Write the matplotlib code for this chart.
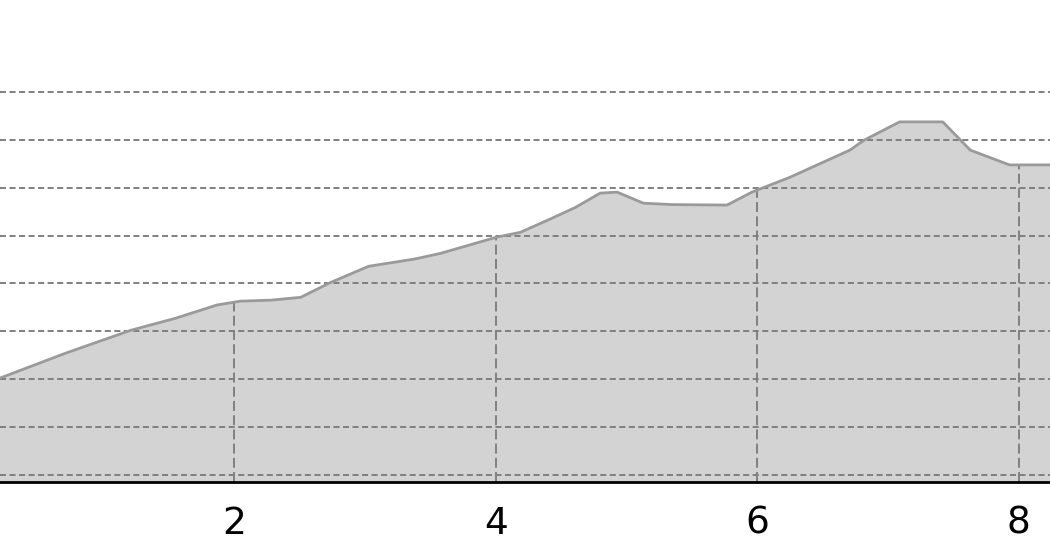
import numpy as np
import matplotlib
matplotlib.use("Agg")
import matplotlib.pyplot as plt

# values (y in arbitrary units, one grid step = 10)
x = [0.21, 0.71, 1.21, 1.55, 1.87, 2.05, 2.28, 2.51, 2.73, 3.03, 3.38, 3.58,
     4.01, 4.19, 4.42, 4.61, 4.80, 4.93, 5.13, 5.35, 5.77, 5.96, 6.25, 6.71,
     6.82, 7.09, 7.42, 7.63, 7.93, 8.24]
y = [20.2, 25.4, 30.2, 32.7, 35.5, 36.3, 36.5, 37.1, 40.1, 43.6, 45.1, 46.3,
     49.7, 50.7, 53.5, 55.9, 58.9, 59.1, 56.8, 56.5, 56.4, 59.1, 62.2, 67.9,
     70.0, 73.8, 73.8, 67.9, 64.8, 64.8]
xticks = [2, 4, 6, 8]
yticks = [0, 10, 20, 30, 40, 50, 60, 70, 80]

fig = plt.figure(figsize=(10.5, 5.6), dpi=100)
ax = fig.add_axes([0, 0.139, 1, 0.861])

ymin = -1.57
poly = ax.fill_between(x, y, ymin, color="#d3d3d3", lw=0, zorder=1)
ax.plot(x, y, color="#9a9a9a", lw=2.0, zorder=2, solid_joinstyle="round")

ax.set_xlim(x[0], x[-1])
ax.set_ylim(ymin, 99.3)
ax.set_xticks(xticks)
ax.set_yticks(yticks)
ax.set_xticklabels([str(t) for t in xticks])

ax.yaxis.grid(True, color="#7f7f7f", ls=(0, (3.1, 1.8)), lw=1.4)
ax.xaxis.grid(True, color="#6a6a6a", ls=(0, (6.5, 2.8)), lw=1.1)
# vertical grid only shows inside the filled area
clip = (poly.get_paths()[0], poly.get_transform())
for gl in ax.get_xgridlines():
    gl.set_clip_path(*clip)

for s in ["top", "left", "right"]:
    ax.spines[s].set_visible(False)
ax.spines["bottom"].set_linewidth(2.0)
ax.spines["bottom"].set_color("black")
ax.spines["bottom"].set_zorder(3)

ax.tick_params(axis="y", left=False, labelleft=False)
ax.tick_params(axis="x", length=0, pad=17, labelsize=27)

fig.savefig("out.png", dpi=100)
